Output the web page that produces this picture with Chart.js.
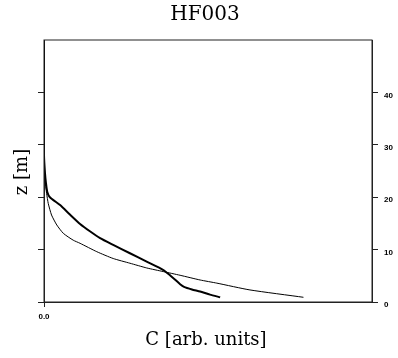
<!DOCTYPE html>
<html><head><meta charset="utf-8">
<script src="https://cdn.jsdelivr.net/npm/chart.js@4/dist/chart.umd.min.js"></script>
<style>html,body{margin:0;padding:0;background:#fff}#wrap{width:398px;height:358px}</style>
</head><body><div id="wrap"><canvas id="c" width="398" height="358"></canvas></div>
<script>
const chartTitle = "HF003";
const xTitle = "C [arb. units]";
const yTitle = "z [m]";
const zTickLabels = [0, 10, 20, 30, 40];
const cTickLabels = [0];
const cRange = [0, 1];
const zRange = [0, 50];

// observed profile (thick line)
const observedC = [0.000, 0.000, 0.000, 0.003, 0.006, 0.010, 0.018, 0.049, 0.079, 0.110, 0.140, 0.171, 0.211, 0.262, 0.313, 0.364, 0.384, 0.399, 0.415, 0.427, 0.451, 0.476, 0.506, 0.537];
const observedZ = [50.0, 35.0, 28.0, 24.6, 22.7, 21.0, 20.0, 18.5, 16.7, 14.9, 13.5, 12.2, 10.9, 9.3, 7.7, 6.1, 5.1, 4.3, 3.4, 2.9, 2.4, 2.0, 1.4, 0.9];
// model profile (thin line)
const modelC = [0.000, 0.000, 0.003, 0.008, 0.013, 0.023, 0.039, 0.059, 0.089, 0.110, 0.161, 0.211, 0.262, 0.313, 0.364, 0.415, 0.476, 0.527, 0.628, 0.791];
const modelZ = [50.0, 27.0, 23.3, 20.7, 18.8, 16.6, 14.7, 13.1, 11.8, 11.2, 9.6, 8.3, 7.4, 6.5, 5.8, 5.1, 4.2, 3.6, 2.3, 0.9];

const toPts = (xs, ys) => xs.map((x, i) => ({x: x, y: ys[i]}));
const axisColor = '#222';
const tickFont = {family: '"Liberation Sans", Arial, sans-serif', size: 8, weight: 'bold'};

const textPlugin = {
  id: 'texts',
  afterDraw(chart) {
    const ctx = chart.ctx, a = chart.chartArea;
    ctx.save();
    ctx.strokeStyle = axisColor; ctx.lineWidth = 1;
    ctx.strokeRect(a.left, a.top, a.right - a.left, a.bottom - a.top);
    ctx.fillStyle = '#000';
    ctx.textAlign = 'center'; ctx.textBaseline = 'middle';
    ctx.font = '20px "DejaVu Serif", serif';
    ctx.fillText(chartTitle, 205, 15);
    ctx.font = '18px "DejaVu Serif", serif';
    ctx.fillText(xTitle, 206, 340);
    ctx.translate(22, 172); ctx.rotate(-Math.PI / 2);
    ctx.fillText(yTitle, 0, 0);
    ctx.restore();
  }
};

new Chart(document.getElementById('c'), {
  type: 'scatter',
  data: {datasets: [
    {data: toPts(observedC, observedZ), showLine: true, borderColor: '#000', borderWidth: 2, pointRadius: 0, tension: 0.2, yAxisID: 'y'},
    {data: toPts(modelC, modelZ), showLine: true, borderColor: '#000', borderWidth: 1, pointRadius: 0, tension: 0.2, yAxisID: 'y'}
  ]},
  options: {
    responsive: false, animation: false, devicePixelRatio: 1,
    layout: {padding: {top: 40, left: 0, right: 0, bottom: 0}},
    plugins: {legend: {display: false}, tooltip: {enabled: false}},
    scales: {
      x: {type: 'linear', position: 'bottom', min: cRange[0], max: cRange[1],
        afterBuildTicks(s) { s.ticks = cTickLabels.map(v => ({value: v})); },
        afterFit(s) { s.height = 56; },
        grid: {drawOnChartArea: false, drawTicks: true, tickLength: 5, color: axisColor},
        border: {display: true, color: axisColor},
        ticks: {font: tickFont, color: '#000', padding: 5, maxRotation: 0, callback: v => Number(v).toFixed(1)}
      },
      y: {type: 'linear', position: 'left', min: zRange[0], max: zRange[1],
        afterBuildTicks(s) { s.ticks = zTickLabels.map(v => ({value: v})); },
        afterFit(s) { s.width = 44; },
        grid: {drawOnChartArea: false, drawTicks: true, tickLength: 6, color: axisColor},
        border: {display: true, color: axisColor},
        ticks: {display: false}
      },
      y2: {type: 'linear', position: 'right', min: zRange[0], max: zRange[1],
        afterBuildTicks(s) { s.ticks = zTickLabels.map(v => ({value: v})); },
        afterFit(s) { s.width = 26; },
        grid: {drawOnChartArea: false, drawTicks: true, tickLength: 6, color: axisColor},
        border: {display: true, color: axisColor},
        ticks: {font: tickFont, color: '#000', padding: 6, labelOffset: 3}
      }
    }
  },
  plugins: [textPlugin]
});
</script></body></html>
